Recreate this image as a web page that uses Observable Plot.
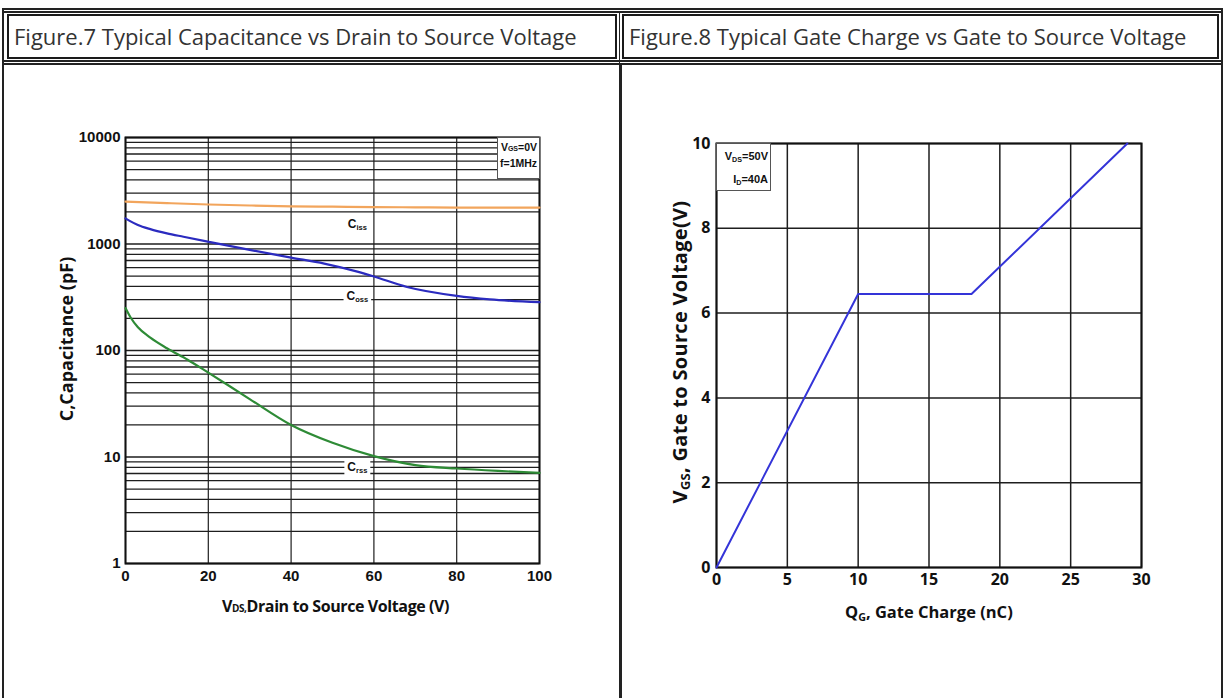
<!DOCTYPE html>
<html>
<head>
<meta charset="utf-8">
<script src="https://cdn.jsdelivr.net/npm/d3@7"></script>
<script src="https://cdn.jsdelivr.net/npm/@observablehq/plot@0.6"></script>
<style>
  html, body { margin: 0; padding: 0; background: #fff; }
  body { width: 1225px; height: 698px; position: relative; overflow: hidden; font-family: "Open Sans", sans-serif; }
  .abs { position: absolute; }
  .line { position: absolute; background: #222; }
  .tbox { position: absolute; box-sizing: border-box; border: 2.5px solid #1a1a1a; font-size: 22px; color: #333; line-height: 40px; padding-left: 5px; white-space: nowrap; }
  .axlab { position: absolute; font-family: "Open Sans", sans-serif; font-weight: 700; font-size: 16px; color: #111; white-space: nowrap; letter-spacing: -0.4px; }
  .cond { position: absolute; box-sizing: border-box; border: 1px solid #555; background: #fff; font-family: "Liberation Sans", Arial, sans-serif; font-weight: 700; font-size: 10px; color: #111; text-align: right; line-height: 14px; padding: 2px 2px 0 2px; }
  .sm { font-size: 7px; }
  sub { font-size: 0.65em; vertical-align: -0.25em; }
</style>
</head>
<body>
<!-- frame lines -->
<div class="line" style="left:2px;top:8px;width:1221px;height:1.5px"></div>
<div class="line" style="left:2px;top:11px;width:1221px;height:1.5px"></div>
<div class="line" style="left:2px;top:8px;width:1.5px;height:700px"></div>
<div class="line" style="left:1221px;top:8px;width:1.5px;height:700px"></div>
<div class="line" style="left:2px;top:60px;width:1221px;height:1.5px"></div>
<div class="line" style="left:2px;top:63px;width:1221px;height:2px"></div>
<div class="line" style="left:619px;top:11px;width:1.2px;height:52px"></div>
<div class="line" style="left:619px;top:63px;width:2.5px;height:640px"></div>
<div class="tbox" style="left:7px;top:14px;width:610px;height:45px">Figure.7 Typical Capacitance vs Drain to Source Voltage</div>
<div class="tbox" style="left:622px;top:14px;width:597px;height:45px">Figure.8 Typical Gate Charge vs Gate to Source Voltage</div>

<div id="left" class="abs" style="left:0px;top:100px"></div>
<div id="right" class="abs" style="left:620px;top:100px"></div>

<div class="cond" style="left:497px;top:137px;width:43px;height:42px;font-size:10.5px">V<span class="sm">GS</span>=0V<br>f=1MHz</div>
<div class="cond" style="left:716px;top:143px;width:55px;height:48px;font-size:11px;line-height:19px;padding-top:3px">V<sub>DS</sub>=50V<br>I<sub>D</sub>=40A</div>

<div class="axlab" id="xl1" style="left:222px;top:595px">V<span style="font-size:10px">DS,</span>Drain to Source Voltage (V)</div>
<div class="axlab" id="yl1" style="left:66px;top:339px;font-size:18px;letter-spacing:0;transform:translate(-50%,-50%) rotate(-90deg)">C,Capacitance (pF)</div>
<div class="axlab" id="xl2" style="left:845px;top:600px;font-size:16.5px;letter-spacing:0">Q<sub>G</sub>, Gate Charge (nC)</div>
<div class="axlab" id="yl2" style="left:680px;top:352px;font-size:20px;letter-spacing:0.3px;transform:translate(-50%,-50%) rotate(-90deg)">V<sub>GS</sub>, Gate to Source Voltage(V)</div>

<script>
// ---------- Figure 7 data ----------
const cissV = [0, 10, 20, 30, 40, 50, 60, 70, 80, 90, 100];
const cissC = [2500, 2420, 2350, 2300, 2260, 2240, 2220, 2210, 2200, 2200, 2200];
const cossV = [0, 1, 3, 6, 10, 14, 20, 30, 40, 48, 56, 60, 68, 80, 88, 100];
const cossC = [1740, 1650, 1510, 1380, 1260, 1170, 1050, 880, 745, 655, 550, 495, 395, 326, 302, 284];
const crssV = [0, 1.2, 3, 6, 10, 15, 20, 30, 40, 50, 60, 70, 80, 90, 100];
const crssC = [250, 205, 165, 132, 105, 82, 62, 35, 20, 13.6, 10.2, 8.4, 7.8, 7.4, 7.1];
const capLabels = ["Ciss", "Coss", "Crss"];
const capLabelV = [56, 56, 56];
const capLabelC = [1524, 321, 7.96];
const xTicks1 = [0, 20, 40, 60, 80, 100];
const yTicks1 = [1, 10, 100, 1000, 10000];
const yGrid1 = [1,2,3,4,5,6,7,8,9,10,20,30,40,50,60,70,80,90,100,200,300,400,500,600,700,800,900,
                1000,2000,3000,4000,5000,6000,7000,8000,9000,10000];

// ---------- Figure 8 data ----------
const qg = [0, 10, 18, 29];
const vgs = [0, 6.45, 6.45, 10];
const xTicks2 = [0, 5, 10, 15, 20, 25, 30];
const yTicks2 = [0, 2, 4, 6, 8, 10];

const series = (xs, ys) => xs.map((x, i) => ({x, y: ys[i]}));
const labels = capLabels.map((s, i) => ({s, x: capLabelV[i], y: capLabelC[i]}));

const gridStroke = "#1e1e1e";

const left = Plot.plot({
  width: 600, height: 540,
  marginLeft: 125, marginRight: 61, marginTop: 37, marginBottom: 77,
  style: {fontFamily: "'Liberation Sans', Arial, sans-serif", fontWeight: 700, fontSize: "15px", color: "#111", background: "transparent"},
  x: {domain: [0, 100], ticks: xTicks1, tickSize: 0, tickPadding: 7, label: null},
  y: {type: "log", domain: [1, 10000], ticks: yTicks1, tickFormat: d => String(d), tickSize: 0, tickPadding: 5, label: null},
  marks: [
    Plot.ruleY(yGrid1, {stroke: gridStroke, strokeWidth: 1.3}),
    Plot.ruleX(xTicks1, {stroke: gridStroke, strokeWidth: 1.2}),
    Plot.frame({stroke: "#111", strokeWidth: 2}),
    Plot.line(series(cissV, cissC), {x: "x", y: "y", stroke: "#f2a55c", strokeWidth: 2.2, curve: "monotone-x"}),
    Plot.line(series(cossV, cossC), {x: "x", y: "y", stroke: "#2b2bbf", strokeWidth: 2.2, curve: "monotone-x"}),
    Plot.line(series(crssV, crssC), {x: "x", y: "y", stroke: "#2e8b36", strokeWidth: 2.2, curve: "monotone-x"}),
    Plot.text(labels, {x: "x", y: "y", text: "s", textAnchor: "middle", fontSize: 12, fontWeight: 700, fill: "#111"})
  ]
});
document.getElementById("left").appendChild(left);
// turn "Ciss" into C + small subscript letters, and put a white patch behind each label
d3.select(left).selectAll("text").each(function () {
  const t = d3.select(this);
  const s = t.text();
  if (!capLabels.includes(s)) return;
  t.text(null);
  t.append("tspan").text(s.slice(0, 1));
  t.append("tspan").attr("font-size", 7.5).attr("dy", "0.25em").text(s.slice(1));
  const b = this.getBBox();
  d3.select(this.parentNode).insert("rect", () => this)
    .attr("transform", t.attr("transform"))
    .attr("x", b.x - 3).attr("y", b.y - 1).attr("width", b.width + 6).attr("height", b.height + 2)
    .attr("fill", "white");
});

const right = Plot.plot({
  width: 580, height: 540,
  marginLeft: 96, marginRight: 59, marginTop: 43, marginBottom: 73,
  style: {fontFamily: "'Open Sans', sans-serif", fontWeight: 700, fontSize: "16px", color: "#111", background: "transparent"},
  x: {domain: [0, 30], ticks: xTicks2, tickSize: 0, tickPadding: 6, label: null},
  y: {domain: [0, 10], ticks: yTicks2, tickSize: 0, tickPadding: 6, label: null},
  marks: [
    Plot.ruleX(xTicks2, {stroke: gridStroke, strokeWidth: 1.5}),
    Plot.ruleY(yTicks2, {stroke: gridStroke, strokeWidth: 1.5}),
    Plot.frame({stroke: "#111", strokeWidth: 2}),
    Plot.line(series(qg, vgs), {x: "x", y: "y", stroke: "#3434d8", strokeWidth: 2})
  ]
});
document.getElementById("right").appendChild(right);
</script>
</body>
</html>
